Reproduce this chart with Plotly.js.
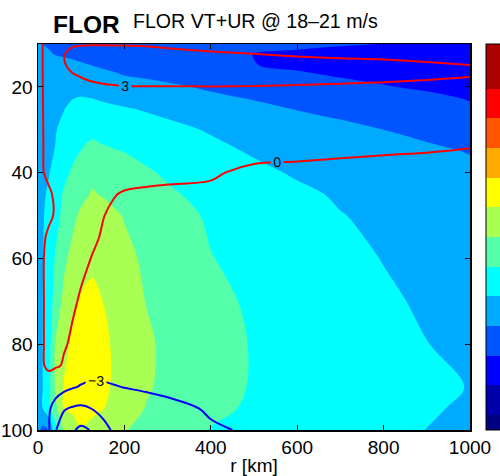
<!DOCTYPE html>
<html>
<head>
<meta charset="utf-8">
<script src="https://cdn.plot.ly/plotly-3.0.1.min.js"></script>
<style>html,body{margin:0;padding:0;background:#fff;}#chart{width:500px;height:476px;}</style>
</head>
<body>
<div id="chart"></div>
<script>
// radius grid [km]
const rGrid = [0, 10, 25, 40, 60, 80, 100, 125, 150, 175, 200, 250, 300, 400, 500, 600, 700, 800, 900, 1000];
// vertical levels for VT (filled)
const yVT = [10, 12.5, 15, 17.5, 20, 22.5, 25, 30, 35, 40, 45, 50, 60, 70, 80, 90, 95, 100];
// VT values (filled contours), rows follow yVT, columns follow rGrid
const vt = [
  [-2, -4.1, -4.3, -4.4, -4.5, -4.6, -4.8, -5.0, -5.2, -5.4, -5.5, -5.8, -6.0, -6.5, -6.9, -7.3, -7.7, -8.05, -8.5, -9],
  [-1.5, -3.3, -3.7, -4.05, -4.2, -4.4, -4.57, -4.8, -5.0, -5.2, -5.45, -5.9, -6.33, -7.2, -8.05, -8.6, -9.1, -9.5, -10.0, -10.5],
  [-1, -2.5, -2.8, -3.1, -3.3, -3.5, -3.75, -4.0, -4.26, -4.5, -4.8, -5.3, -5.8, -6.9, -7.93, -8.5, -9.0, -9.5, -10.0, -10.5],
  [-0.5, -1.5, -1.8, -2.1, -2.3, -2.55, -2.8, -3.1, -3.4, -3.65, -3.95, -4.4, -4.8, -5.7, -6.6, -7.45, -8.15, -8.6, -9.05, -9.5],
  [-0.5, -1.2, -1.1, -1.0, -0.9, -0.85, -0.8, -1.1, -1.5, -1.85, -2.2, -2.8, -3.45, -4.45, -5.3, -6.2, -7.0, -7.85, -8.35, -8.8],
  [-0.5, -1.0, -0.8, -0.6, -0.35, -0.1, 0.1, -0.1, -0.5, -0.9, -1.3, -1.9, -2.4, -3.4, -4.3, -5.0, -5.9, -6.7, -7.5, -8.2],
  [-1, -0.85, -0.6, -0.4, -0.08, 0.45, 0.8, 1.15, 0.8, 0.5, 0.2, -0.35, -0.9, -2.0, -3.15, -4.2, -5.05, -5.9, -6.75, -7.6],
  [-1, -0.8, -0.45, -0.13, 0.55, 1.4, 2.4, 3.5, 3.1, 2.6, 2.23, 1.56, 0.9, -0.3, -1.2, -2.15, -3.05, -4.0, -4.8, -5.6],
  [-1, -0.75, -0.35, 0.07, 1.5, 2.9, 4.1, 4.6, 4.4, 4.2, 3.92, 3.15, 2.38, 0.85, -0.34, -1.1, -1.87, -2.63, -3.39, -4.15],
  [-1, -0.65, -0.15, 1.0, 3.0, 4.6, 5.8, 7.3, 6.8, 6.15, 5.5, 4.4, 3.58, 2.16, 0.75, -0.35, -1.08, -1.82, -2.56, -3.3],
  [-0.8, -0.45, 0.39, 2.32, 4.45, 5.74, 7.03, 8.25, 7.78, 7.22, 6.67, 5.56, 4.44, 3.03, 1.82, 0.61, -0.37, -1.11, -1.86, -2.6],
  [-0.8, -0.35, 0.85, 2.67, 4.97, 7.14, 8.65, 10.0, 9.25, 8.5, 7.81, 6.62, 5.43, 3.54, 2.40, 1.26, 0.11, -0.62, -1.31, -2.0],
  [-0.8, -0.27, 1.74, 4.3, 7.26, 8.98, 10.2, 11.3, 10.57, 9.71, 8.86, 7.44, 6.33, 4.11, 3.0, 1.95, 0.89, -0.1, -0.8, -1.5],
  [-0.8, -0.18, 2.18, 5.33, 9.0, 11.0, 12.48, 12.86, 11.98, 10.96, 9.92, 7.92, 6.92, 4.92, 3.46, 2.46, 1.47, 0.47, -0.42, -1.2],
  [-0.8, -0.13, 2.48, 8.05, 10.96, 12.68, 13.72, 14.0, 12.78, 11.63, 10.6, 8.54, 7.3, 5.4, 3.76, 2.83, 1.9, 0.97, 0.05, -0.8],
  [-1, -0.17, 2.89, 8.24, 12.19, 13.1, 14.04, 13.84, 12.75, 11.65, 10.57, 8.39, 7.2, 5.26, 3.73, 2.96, 2.19, 1.42, 0.65, -0.1],
  [-1.5, -0.25, 3.06, 6.75, 12.09, 12.72, 13.34, 12.9, 12.15, 11.09, 9.95, 7.86, 6.82, 4.76, 3.51, 2.73, 1.95, 1.17, 0.39, -0.5],
  [-3, -5, -4.3, 2.5, 8.42, 10.1, 11.8, 10.9, 10.0, 9.1, 8.2, 7.0, 5.86, 3.86, 3.08, 2.3, 1.52, 0.74, -0.04, -0.8]
];
// vertical levels for UR (line contours)
const yUR = [10, 12.5, 15, 17.5, 20, 22.5, 25, 30, 35, 40, 45, 50, 55, 60, 70, 80, 85, 90, 95, 100];
// UR values, rows follow yUR, columns follow rGrid
const ur = [
  [-0.3, -0.05, 0.6, 1.3, 2.0, 2.6, 2.75, 2.8, 2.8, 2.8, 2.8, 2.75, 2.6, 2.3, 1.9, 1.5, 1.2, 0.9, 0.6, 0.3],
  [-0.4, -0.05, 0.9, 1.8, 2.9, 4.0, 4.3, 4.4, 4.4, 4.3, 4.2, 3.9, 3.6, 3.3, 3.1, 2.8, 2.5, 2.2, 1.9, 1.6],
  [-0.4, -0.05, 0.9, 1.8, 2.8, 3.6, 4.1, 4.3, 4.4, 4.4, 4.4, 4.3, 4.2, 4.1, 4.05, 4.0, 4.0, 4.0, 3.5, 3.05],
  [-0.4, -0.05, 0.7, 1.4, 2.2, 2.75, 3.1, 3.4, 3.6, 3.7, 3.75, 3.8, 3.8, 3.8, 3.8, 3.7, 3.6, 3.45, 3.25, 3.05],
  [-0.4, -0.05, 0.55, 1.1, 1.6, 2.0, 2.3, 2.6, 2.75, 2.85, 2.93, 2.95, 2.95, 2.96, 2.93, 2.85, 2.75, 2.65, 2.55, 2.43],
  [-0.4, -0.05, 0.5, 0.9, 1.3, 1.6, 1.9, 2.1, 2.2, 2.3, 2.3, 2.3, 2.3, 2.2, 2.1, 2.0, 1.9, 1.8, 1.7, 1.6],
  [-0.4, -0.05, 0.4, 0.8, 1.1, 1.3, 1.5, 1.7, 1.8, 1.8, 1.8, 1.8, 1.7, 1.6, 1.5, 1.4, 1.3, 1.2, 1.1, 1.0],
  [-0.4, -0.05, 0.3, 0.6, 0.8, 0.9, 1.0, 1.1, 1.1, 1.1, 1.1, 1.0, 0.95, 0.85, 0.75, 0.65, 0.6, 0.5, 0.4, 0.3],
  [-0.4, -0.05, 0.25, 0.45, 0.55, 0.6, 0.65, 0.7, 0.7, 0.7, 0.65, 0.6, 0.55, 0.45, 0.3, 0.2, 0.15, 0.08, 0.03, -0.05],
  [-0.4, -0.05, 0.15, 0.3, 0.35, 0.4, 0.4, 0.4, 0.35, 0.3, 0.25, 0.2, 0.15, 0.1, -0.2, -0.22, -0.3, -0.35, -0.4, -0.45],
  [-0.4, -0.3, -0.1, 0.1, 0.2, 0.25, 0.25, 0.2, 0.1, 0.03, -0.05, -0.1, -0.12, -0.17, -0.3, -0.4, -0.5, -0.55, -0.6, -0.65],
  [-0.4, -0.3, -0.1, 0.05, 0.2, 0.25, 0.25, 0.15, 0.02, -0.1, -0.2, -0.3, -0.4, -0.5, -0.6, -0.7, -0.75, -0.8, -0.85, -0.9],
  [-0.4, -0.1, 0.1, 0.2, 0.3, 0.3, 0.25, 0.1, -0.05, -0.2, -0.35, -0.5, -0.6, -0.7, -0.8, -0.9, -0.95, -1.0, -1.05, -1.1],
  [-0.4, -0.05, 0.15, 0.25, 0.3, 0.25, 0.15, -0.02, -0.2, -0.35, -0.5, -0.7, -0.8, -0.9, -1.0, -1.05, -1.1, -1.15, -1.2, -1.2],
  [-0.4, -0.05, 0.15, 0.25, 0.25, 0.1, -0.08, -0.35, -0.6, -0.8, -1.0, -1.2, -1.35, -1.45, -1.5, -1.5, -1.5, -1.5, -1.5, -1.5],
  [-0.4, -0.05, 0.15, 0.2, 0.08, -0.12, -0.5, -0.9, -1.2, -1.4, -1.6, -1.8, -1.9, -2.0, -2.0, -2.0, -1.9, -1.8, -1.8, -1.8],
  [-0.4, -0.05, 0.1, 0.15, -0.1, -0.8, -1.6, -1.9, -1.9, -1.9, -1.9, -1.9, -2.0, -2.1, -2.1, -2.0, -2.0, -1.9, -1.9, -1.9],
  [-0.4, -0.3, -0.3, -1.2, -2.2, -2.8, -3.2, -3.5, -3.4, -3.15, -2.95, -2.7, -2.5, -2.3, -2.2, -2.1, -2.0, -1.95, -1.9, -1.9],
  [-0.4, -0.5, -2.5, -4.5, -5.8, -6.3, -6.5, -5.95, -5.3, -4.8, -4.5, -4.0, -3.55, -2.8, -2.5, -2.3, -2.2, -2.1, -2.0, -2.0],
  [-0.4, -1.0, -2.7, -5.8, -7.5, -8.7, -9.6, -8.8, -6.8, -5.7, -5.0, -4.3, -3.8, -3.2, -2.8, -2.5, -2.3, -2.2, -2.1, -2.1]
];
// filled-contour levels and band colours (lowest to highest)
const vtLevels = {start: -16, end: 32, size: 4};
const bandColors = ['rgb(0,0,130)', 'rgb(0,0,170)', 'rgb(0,0,255)', 'rgb(0,85,255)', 'rgb(0,170,255)',
  'rgb(0,255,255)', 'rgb(85,255,170)', 'rgb(170,255,85)', 'rgb(255,255,0)', 'rgb(255,170,0)',
  'rgb(255,85,0)', 'rgb(255,0,0)', 'rgb(170,0,0)', 'rgb(170,0,0)'];
const xTicks = [0, 200, 400, 600, 800, 1000];
const yTicks = [20, 40, 60, 80, 100];
const mainTitle = 'FLOR';
const subTitle = 'FLOR VT+UR @ 18\u201321 m/s';
const xLabel = 'r [km]';

const n = bandColors.length - 1;
const colorscale = bandColors.map((c, i) => [i / n, c]);
const FONT = 'Liberation Sans, Arial, Helvetica, sans-serif';

const traces = [
  {
    type: 'contour', x: rGrid, y: yVT, z: vt,
    autocontour: false,
    contours: {start: vtLevels.start, end: vtLevels.end, size: vtLevels.size, coloring: 'fill', showlines: false},
    line: {width: 0, smoothing: 1},
    colorscale: colorscale,
    showscale: true,
    colorbar: {
      x: 1.037, xanchor: 'left', xpad: 0, ypad: 0, y: 0.5, yanchor: 'middle',
      len: 1, lenmode: 'fraction', thickness: 30,
      outlinewidth: 1, outlinecolor: '#000', showticklabels: false, ticks: ''
    },
    hoverinfo: 'skip'
  },
  {
    type: 'contour', x: rGrid, y: yUR, z: ur,
    autocontour: false,
    contours: {start: 0, end: 3, size: 3, coloring: 'none', showlabels: true,
      labelfont: {family: FONT, size: 14, color: '#000'}},
    line: {color: 'rgb(255,0,0)', width: 2, smoothing: 1},
    showscale: false, hoverinfo: 'skip'
  },
  {
    type: 'contour', x: rGrid, y: yUR, z: ur,
    autocontour: false,
    contours: {start: -9, end: -3, size: 3, coloring: 'none', showlabels: true,
      labelfont: {family: FONT, size: 14, color: '#000'}},
    line: {color: 'rgb(0,0,255)', width: 2, smoothing: 1},
    showscale: false, hoverinfo: 'skip'
  }
];

const axisCommon = {
  showgrid: false, zeroline: false, showline: true, mirror: 'ticks',
  linecolor: '#000', linewidth: 1.5, ticks: 'inside', ticklen: 5, tickwidth: 1, tickcolor: '#000',
  tickfont: {family: FONT, size: 19, color: '#000'}
};

const layout = {
  width: 500, height: 476,
  margin: {l: 38, r: 30, t: 44, b: 46, pad: 0, autoexpand: false},
  paper_bgcolor: '#fff', plot_bgcolor: '#fff',
  showlegend: false, hovermode: false,
  xaxis: Object.assign({}, axisCommon, {
    range: [0, 1000], tickvals: xTicks, ticktext: xTicks.map(String), automargin: false,
    title: {text: xLabel, font: {family: FONT, size: 19, color: '#000'}, standoff: 2}
  }),
  yaxis: Object.assign({}, axisCommon, {
    range: [100, 10], tickvals: yTicks, ticktext: yTicks.map(String), automargin: false
  }),
  annotations: [
    {text: '<b>' + mainTitle + '</b>', xref: 'paper', yref: 'paper', x: (51 - 38) / 432, y: (430 - 40) / 386,
     xanchor: 'left', yanchor: 'bottom', showarrow: false, font: {family: FONT, size: 24.5, color: '#000'}},
    {text: subTitle, xref: 'paper', yref: 'paper', x: (131 - 38) / 432, y: (430 - 34) / 386,
     xanchor: 'left', yanchor: 'bottom', showarrow: false, font: {family: FONT, size: 19.6, color: '#000'}}
  ]
};

Plotly.newPlot('chart', traces, layout, {staticPlot: true, displayModeBar: false});
</script>
</body>
</html>
